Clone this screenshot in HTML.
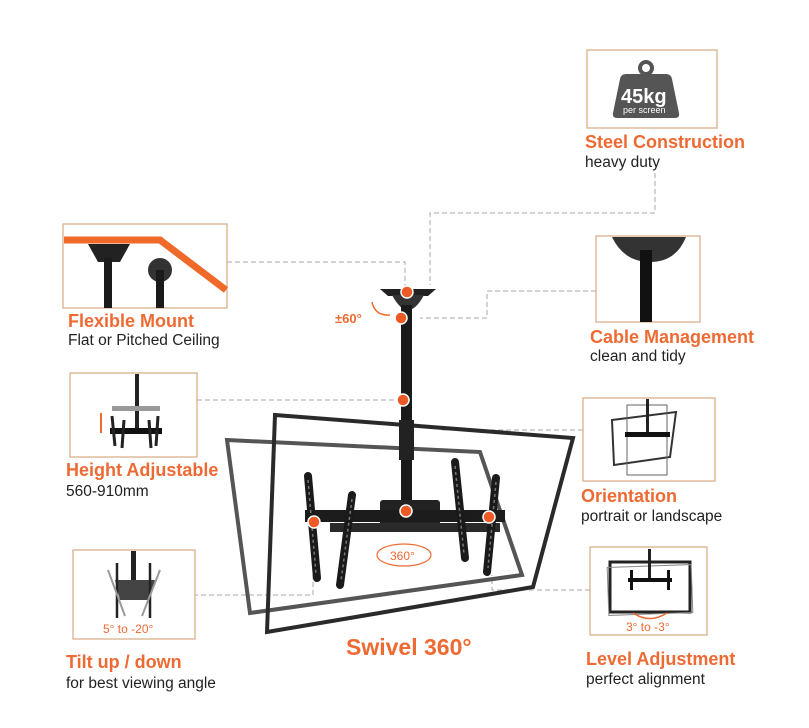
<!DOCTYPE html>
<html><head><style>
html,body{margin:0;padding:0;background:#fff;}
svg{display:block;}
.t{font-family:"Liberation Sans",sans-serif;font-weight:bold;fill:#ee6a33;font-size:18px;}
.s{font-family:"Liberation Sans",sans-serif;fill:#222;font-size:15.5px;}
.o{font-family:"Liberation Sans",sans-serif;fill:#ee6a33;font-size:12px;}
.box{fill:#fff;stroke:#d9b08a;stroke-width:1.3;}
.d{fill:none;stroke:#aaa;stroke-width:1;stroke-dasharray:5,3;}
</style></head><body>
<svg width="809" height="728" viewBox="0 0 809 728" xmlns="http://www.w3.org/2000/svg">
<path class="d" d="M655 173 V213 H430 V285"/>
<path class="d" d="M227 262 H405 V288"/>
<path class="d" d="M596 291 H487 V318 H420"/>
<path class="d" d="M197 400 H400"/>
<path class="d" d="M583 430 H440"/>
<path class="d" d="M193 595 H313 V570"/>
<path class="d" d="M590 590 H492 V575"/>

<polygon points="227,440 480,452 522,575 250,613" fill="none" stroke="#555" stroke-width="4"/>
<polygon points="275,415 573,438 533,587 267,632" fill="none" stroke="#2a2a2a" stroke-width="4"/>

<path d="M380 289 H436 L428 296 H388 Z" fill="#222"/>
<path d="M392 295 Q408 325 424 295 Z" fill="#333"/>
<rect x="401" y="305" width="11" height="210" fill="#1a1a1a"/>
<rect x="399" y="420" width="15" height="40" fill="#222"/>
<rect x="380" y="500" width="60" height="30" fill="#222" rx="3"/>
<rect x="305" y="510" width="200" height="12" fill="#1c1c1c"/>
<rect x="330" y="523" width="170" height="9" fill="#2a2a2a"/>
<g stroke="#1a1a1a" stroke-width="8" stroke-linecap="round">
<line x1="308" y1="476" x2="317" y2="578"/>
<line x1="352" y1="495" x2="340" y2="585"/>
<line x1="455" y1="462" x2="465" y2="558"/>
<line x1="496" y1="478" x2="487" y2="572"/>
</g>
<g stroke="#777" stroke-width="1.5" stroke-dasharray="3,3">
<line x1="308" y1="480" x2="316" y2="574"/>
<line x1="352" y1="499" x2="341" y2="581"/>
<line x1="455" y1="466" x2="464" y2="554"/>
<line x1="496" y1="482" x2="488" y2="568"/>
</g>
<g fill="#ee5a25" stroke="#fff" stroke-width="1.5">
<circle cx="407" cy="292" r="6"/><circle cx="401" cy="318" r="6"/>
<circle cx="403" cy="400" r="6"/><circle cx="406" cy="511" r="6"/>
<circle cx="314" cy="522" r="6"/><circle cx="489" cy="517" r="6"/>
</g>
<text x="335" y="323" class="o" style="font-size:13px;font-weight:bold">±60°</text>
<path d="M372 302 Q375 316 390 315" fill="none" stroke="#ee6a33" stroke-width="1.5"/>
<ellipse cx="404" cy="555" rx="27" ry="11" fill="none" stroke="#ee6a33" stroke-width="1.2"/>
<text x="390" y="560" class="o">360°</text>
<text x="346" y="655" class="t" style="font-size:23px">Swivel 360°</text>

<rect class="box" x="587" y="50" width="130" height="78"/>
<circle cx="646" cy="68" r="6" fill="none" stroke="#555" stroke-width="4"/>
<path d="M626 74 H666 Q671 74 672 79 L679 113 Q680 118 675 118 H617 Q612 118 613 113 L620 79 Q621 74 626 74 Z" fill="#555"/>
<text x="621" y="103" font-family="Liberation Sans,sans-serif" font-weight="bold" font-size="20" fill="#fff">45kg</text>
<text x="623" y="113" font-family="Liberation Sans,sans-serif" font-size="9" fill="#fff">per screen</text>
<text x="585" y="148" class="t">Steel Construction</text>
<text x="585" y="167" class="s">heavy duty</text>

<rect class="box" x="63" y="224" width="164" height="84"/>
<path d="M64 240 H160 L226 290" fill="none" stroke="#ef6a2a" stroke-width="7"/>
<path d="M88 244 H130 L120 262 H98 Z" fill="#222"/>
<rect x="104" y="258" width="8" height="50" fill="#1a1a1a"/>
<circle cx="160" cy="270" r="12" fill="#333"/>
<rect x="156" y="270" width="8" height="38" fill="#1a1a1a"/>
<text x="68" y="327" class="t">Flexible Mount</text>
<text x="68" y="345" class="s">Flat or Pitched Ceiling</text>

<rect class="box" x="596" y="236" width="104" height="86"/>
<path d="M612 237 H686 Q676 262 650 262 Q624 262 612 237 Z" fill="#333"/>
<rect x="640" y="250" width="12" height="72" fill="#111"/>
<text x="590" y="343" class="t">Cable Management</text>
<text x="590" y="361" class="s">clean and tidy</text>

<rect class="box" x="70" y="373" width="127" height="84"/>
<rect x="135" y="374" width="4" height="60" fill="#222"/>
<rect x="112" y="406" width="48" height="5" fill="#999"/>
<rect x="110" y="428" width="52" height="6" fill="#111"/>
<g stroke="#222" stroke-width="3"><line x1="112" y1="416" x2="115" y2="446"/><line x1="158" y1="416" x2="156" y2="446"/><line x1="124" y1="420" x2="122" y2="448"/><line x1="149" y1="420" x2="151" y2="448"/></g>
<path d="M101 413 V433" stroke="#ee6a33" stroke-width="2"/>
<text x="66" y="476" class="t">Height Adjustable</text>
<text x="66" y="496" class="s">560-910mm</text>

<rect class="box" x="583" y="398" width="132" height="83"/>
<polygon points="612,420 676,412 670,457 614,465" fill="none" stroke="#333" stroke-width="2"/>
<rect x="627" y="405" width="40" height="70" fill="none" stroke="#666" stroke-width="1"/>
<rect x="646" y="399" width="3" height="35" fill="#222"/>
<rect x="625" y="432" width="45" height="5" fill="#111"/>
<text x="581" y="502" class="t">Orientation</text>
<text x="581" y="521" class="s">portrait or landscape</text>

<rect class="box" x="73" y="550" width="122" height="89"/>
<rect x="131" y="551" width="5" height="30" fill="#222"/>
<path d="M115 580 L155 580 L150 600 L120 600 Z" fill="#444"/>
<g stroke="#222" stroke-width="2.5"><line x1="117" y1="563" x2="117" y2="618"/><line x1="150" y1="563" x2="150" y2="618"/></g>
<g stroke="#999" stroke-width="2"><line x1="108" y1="570" x2="125" y2="616"/><line x1="160" y1="570" x2="142" y2="616"/></g>
<text x="103" y="633" class="o">5° to -20°</text>
<text x="66" y="668" class="t">Tilt up / down</text>
<text x="66" y="688" class="s">for best viewing angle</text>

<rect class="box" x="590" y="547" width="117" height="88"/>
<rect x="610" y="562" width="80" height="50" fill="none" stroke="#222" stroke-width="3"/>
<rect x="608" y="566" width="84" height="48" fill="none" stroke="#888" stroke-width="1" transform="rotate(-2 650 590)"/>
<rect x="648" y="549" width="3" height="30" fill="#222"/>
<rect x="628" y="578" width="44" height="4" fill="#111"/>
<rect x="630" y="570" width="3" height="20" fill="#111"/><rect x="667" y="570" width="3" height="20" fill="#111"/>
<path d="M633 613 Q650 624 667 613" fill="none" stroke="#ee6a33" stroke-width="1.5"/>
<text x="626" y="631" class="o">3° to -3°</text>
<text x="586" y="665" class="t">Level Adjustment</text>
<text x="586" y="684" class="s">perfect alignment</text>
</svg>
</body></html>
